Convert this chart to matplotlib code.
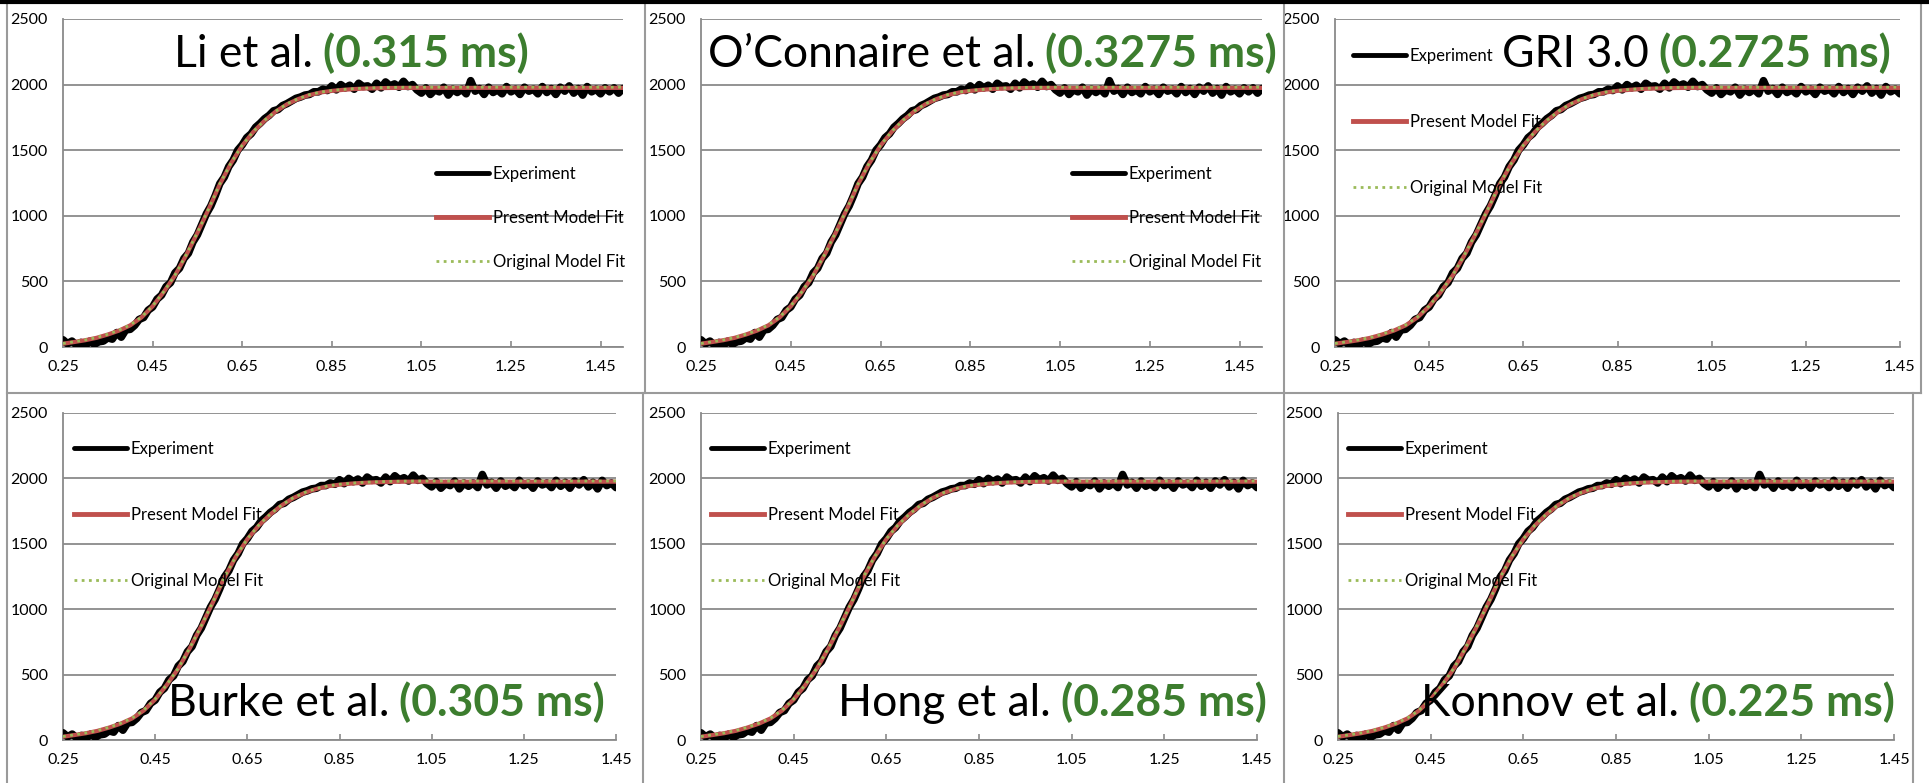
import numpy as np
import matplotlib
matplotlib.use("Agg")
import matplotlib.pyplot as plt
from matplotlib.lines import Line2D

plt.rcParams['font.family'] = ['Lato', 'DejaVu Sans']

# ---------------- data ----------------
mechanisms = ['Li et al.', 'O\u2019Connaire et al.', 'GRI 3.0',
              'Burke et al.', 'Hong et al.', 'Konnov et al.']
time_labels = ['(0.315 ms)', '(0.3275 ms)', '(0.2725 ms)',
               '(0.305 ms)', '(0.285 ms)', '(0.225 ms)']

x_ticks = [0.25, 0.45, 0.65, 0.85, 1.05, 1.25, 1.45]
x_tick_labels = ['0.25', '0.45', '0.65', '0.85', '1.05', '1.25', '1.45']
y_ticks = [0, 500, 1000, 1500, 2000, 2500]
y_tick_labels = ['0', '500', '1000', '1500', '2000', '2500']

# model fits sampled every 0.025 ms from 0.25 to 1.50
fit_time = np.linspace(0.25, 1.50, 51)
present_fit = [25, 38, 52, 70, 95, 125, 165, 225, 310, 420,
               545, 700, 870, 1050, 1240, 1400, 1535, 1640, 1725, 1795,
               1850, 1890, 1920, 1940, 1952, 1960, 1966, 1970, 1972, 1974,
               1975, 1975, 1975, 1975, 1975, 1975, 1975, 1975, 1975, 1975,
               1975, 1975, 1975, 1975, 1975, 1975, 1975, 1975, 1975, 1975,
               1975]
original_fit = [27, 40, 54, 72, 97, 128, 168, 228, 313, 423,
                548, 703, 873, 1053, 1243, 1403, 1538, 1643, 1728, 1798,
                1853, 1893, 1923, 1943, 1955, 1963, 1969, 1973, 1976, 1978,
                1979, 1980, 1980, 1980, 1980, 1980, 1980, 1980, 1980, 1980,
                1980, 1980, 1980, 1980, 1980, 1980, 1980, 1980, 1980, 1980,
                1980]

# experiment sampled every 0.01 ms from 0.25 to 1.50
exp_time = np.linspace(0.25, 1.50, 126)
experiment = [55, 25, 45, 15, 35, 10, 45, 20, 40, 45,
              70, 60, 110, 75, 130, 135, 165, 210, 225, 280,
              305, 365, 395, 460, 490, 565, 600, 675, 715, 800,
              855, 935, 1015, 1075, 1155, 1245, 1295, 1375, 1425, 1500,
              1540, 1595, 1625, 1675, 1705, 1740, 1765, 1800, 1810, 1840,
              1855, 1875, 1895, 1905, 1920, 1925, 1945, 1945, 1965, 1955,
              1990, 1960, 2000, 1975, 1995, 1965, 2010, 1985, 1990, 1965,
              2010, 1975, 2020, 1990, 2005, 1980, 2025, 1985, 2000, 1960,
              1935, 1975, 1925, 1960, 1945, 1980, 1920, 1965, 1940, 1965,
              1930, 2030, 1950, 1970, 1925, 1980, 1940, 1960, 1930, 1985,
              1945, 1965, 1925, 1980, 1950, 1965, 1930, 1985, 1940, 1970,
              1925, 1980, 1950, 1990, 1935, 1970, 1920, 1985, 1945, 1965,
              1930, 1975, 1945, 1975, 1935, 1970]

series_labels = ['Experiment', 'Present Model Fit', 'Original Model Fit']

# ---------------- layout (pixels) ----------------
W, H = 1929, 783
fig = plt.figure(figsize=(W / 100, H / 100), dpi=100)

# (left, top, right, bottom, xmax)
axes_px = [
    (63, 19, 623, 347, 1.50),
    (701, 19, 1262, 347, 1.50),
    (1335, 19, 1900, 347, 1.45),
    (63, 413, 616, 740, 1.45),
    (701, 413, 1257, 740, 1.45),
    (1338, 413, 1894, 740, 1.45),
]
# title right edge & baseline (px)
title_px = [(529, 67), (1277, 67), (1891, 67),
            (605, 716), (1267, 716), (1895, 716)]
# legend: handle start x, middle row y, row pitch (px)
legend_px = [(436, 218, 44), (1072, 218, 44), (1353, 122, 66),
             (74, 515, 66), (711, 515, 66), (1348, 515, 66)]

GRID = '#8A8A8A'
GREEN_TXT = '#3C7D2E'
RED = '#C0504D'
OLIVE = '#9BBB59'

leg_fs = 12
leg_fs_px = leg_fs * 100 / 72
title_fs = 32

renderer = fig.canvas.get_renderer()

for i in range(6):
    l, t, r, b, xmax = axes_px[i]
    ax = fig.add_axes([l / W, 1 - b / H, (r - l) / W, (b - t) / H])
    ax.plot(exp_time, experiment, color='black', lw=5.5, solid_joinstyle='round',
            solid_capstyle='round', label=series_labels[0], zorder=3)
    ax.plot(fit_time, present_fit, color=RED, lw=3.0, label=series_labels[1], zorder=4)
    ax.plot(fit_time, original_fit, color=OLIVE, lw=2.0, ls=(0, (1, 1.6)),
            label=series_labels[2], zorder=5)
    ax.set_xlim(0.25, xmax)
    ax.set_ylim(0, 2500)
    ax.set_xticks(x_ticks)
    ax.set_xticklabels(x_tick_labels)
    ax.set_yticks(y_ticks)
    ax.set_yticklabels(y_tick_labels)
    ax.grid(axis='y', color=GRID, lw=1.3)
    ax.set_axisbelow(True)
    for s in ['top', 'right']:
        ax.spines[s].set_visible(False)
    for s in ['left', 'bottom']:
        ax.spines[s].set_color(GRID)
        ax.spines[s].set_linewidth(1.3)
    ax.tick_params(axis='x', direction='in', length=4, width=1.2, color=GRID,
                   labelsize=11.5, pad=9)
    ax.tick_params(axis='y', length=0, labelsize=11.5, pad=11)
    ax.set_facecolor('none')

    # legend
    hx, my, pitch = legend_px[i]
    th = 0.95 * leg_fs_px
    lsp = (pitch - th) / leg_fs_px
    leg = ax.legend(loc='center left',
                    bbox_to_anchor=((hx - l) / (r - l), (b - my) / (b - t)),
                    frameon=False, fontsize=leg_fs, borderpad=0, borderaxespad=0,
                    handlelength=53 / leg_fs_px, handletextpad=0.22,
                    labelspacing=lsp)
    for lh in leg.get_lines()[:2]:
        lh.set_linewidth(3.5)

    # title: black name + green bold time
    tx, ty = title_px[i]
    tg = fig.text(tx / W, 1 - ty / H, time_labels[i], color=GREEN_TXT,
                  fontsize=title_fs, fontweight='bold', ha='right', va='baseline')
    bb = tg.get_window_extent(renderer)
    gap = 10
    fig.text((bb.x0 - gap) / W, 1 - ty / H, mechanisms[i], color='black',
             fontsize=title_fs, ha='right', va='baseline')

# panel borders
BORDER = '#9A9A9A'
def vline(x, y0, y1, c=BORDER, lw=1.5):
    fig.add_artist(Line2D([x / W, x / W], [1 - y0 / H, 1 - y1 / H], color=c, lw=lw))
def hline(y, x0, x1, c=BORDER, lw=1.5):
    fig.add_artist(Line2D([x0 / W, x1 / W], [1 - y / H, 1 - y / H], color=c, lw=lw))

vline(7, 0, 783)
vline(645, 0, 393)
vline(643, 393, 783)
vline(1284, 0, 783)
vline(1921, 0, 393)
vline(1913, 393, 783)
hline(393, 7, 1921)
hline(2, 0, 1929, c='black', lw=3)

fig.savefig('out.png', dpi=100)
